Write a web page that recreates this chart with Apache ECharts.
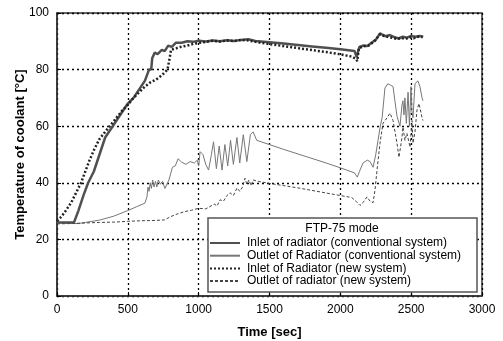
<!DOCTYPE html>
<html><head><meta charset="utf-8">
<script src="https://cdn.jsdelivr.net/npm/echarts@6/dist/echarts.min.js"></script>
<style>html,body{margin:0;padding:0;background:#fff}#c{width:503px;height:341px}</style>
</head><body><div id="c"></div>
<script>
const xTicks = [0, 500, 1000, 1500, 2000, 2500, 3000];
const yTicks = [0, 20, 40, 60, 80, 100];
const seriesNames = [
  'Inlet of radiator (conventional system)',
  'Outlet of Radiator (conventional system)',
  'Inlet of Radiator (new system)',
  'Outlet of radiator (new system)'
];
const inletConv = [[0,26],[60,26],[120,26],[150,30],[190,36],[220,40],[260,44],[300,50],[340,56],[380,59],[420,62],[460,65],[500,68],[540,70],[580,73],[620,76],[650,80],[665,80],[672,84],[690,86],[710,85.5],[740,87],[760,86.5],[785,88.5],[810,88],[840,89.5],[880,89.5],[920,90],[960,89.8],[1000,90.2],[1050,89.9],[1100,90.3],[1150,90],[1200,90.4],[1250,90.1],[1300,90.5],[1350,90.7],[1400,90.1],[1500,89.7],[1600,89.2],[1700,88.7],[1800,88.2],[1900,87.7],[2000,87.2],[2100,86.6],[2115,84.5],[2125,84.8],[2135,88],[2160,88.5],[2190,88.3],[2220,89.5],[2250,90.5],[2280,92.8],[2300,92.3],[2320,91.8],[2350,92.2],[2380,91.5],[2410,91],[2440,91.6],[2470,91.3],[2500,91.9],[2530,91.6],[2560,91.9],[2585,91.6]];
const outletConv = [[0,26],[50,25.8],[100,25.6],[150,25.6],[200,26],[300,26.8],[400,28.2],[500,30.2],[560,31.5],[620,32.8],[635,35],[642,38.5],[650,37],[658,40],[666,38],[675,41],[685,38.5],[695,40.5],[705,38.5],[715,41],[730,39.5],[745,40.5],[762,38],[790,41],[815,45.5],[835,46],[855,48.5],[880,47.3],[910,46.5],[940,47.5],[970,47],[990,48],[1000,46],[1010,51],[1030,50],[1050,46.5],[1070,44.5],[1090,50],[1105,54.5],[1125,45],[1145,53],[1165,44.5],[1185,53.5],[1205,46],[1225,55],[1245,46.5],[1270,56],[1290,47],[1315,57],[1340,47.5],[1365,57],[1384,58],[1410,55],[1500,53.5],[1600,51.8],[1700,50.2],[1800,48.6],[1900,47],[2000,45.3],[2100,43.5],[2120,42],[2135,44],[2160,47],[2190,48],[2210,47.5],[2231,45.5],[2250,50],[2266,55],[2282,60],[2295,63],[2315,73.5],[2335,75],[2355,74.5],[2372,74],[2385,69],[2400,63.5],[2421,60],[2435,67.5],[2442,69],[2449,64],[2456,70],[2466,61],[2478,72],[2488,60],[2499,74],[2506,65],[2513,63],[2527,75],[2548,76],[2562,74],[2577,70],[2583,69]];
const inletNew = [[0,26.5],[30,28],[60,30],[100,33],[130,36],[170,40],[200,44],[230,48],[260,51.5],[300,55.5],[340,58],[380,60.5],[420,63],[460,65.5],[500,67.5],[540,70],[580,72],[620,74],[660,75.5],[700,76.5],[740,78],[780,80],[795,84],[805,87],[840,87.5],[870,88],[920,88.5],[970,89.2],[1010,89.5],[1050,89.8],[1100,90.2],[1150,89.9],[1200,90.3],[1250,90.1],[1300,90.5],[1350,90.3],[1400,89.8],[1500,89],[1600,88.3],[1700,87.6],[1800,86.9],[1900,86.2],[2000,85.4],[2080,84.6],[2110,83.8],[2120,83],[2130,87.5],[2160,88.2],[2200,88.5],[2240,90],[2280,92.5],[2310,91.8],[2340,91.5],[2370,91.2],[2400,90.8],[2430,91.2],[2460,90.8],[2490,91.4],[2520,91.1],[2550,91.6],[2580,91.5]];
const outletNew = [[0,25.5],[100,25.6],[200,25.8],[300,26],[400,26.1],[500,26.4],[600,26.6],[700,26.7],[760,26.9],[800,28],[850,29],[900,29.8],[950,30.3],[1000,31],[1050,30.8],[1080,31.6],[1110,32.5],[1130,31.8],[1151,34],[1175,33.5],[1200,35.5],[1221,36.5],[1245,35.5],[1271,38.2],[1290,37],[1310,38.5],[1327,41.6],[1340,39.5],[1355,41],[1370,39],[1384,41],[1420,40.5],[1500,39.8],[1600,39],[1700,38.2],[1800,37.3],[1900,36.4],[2000,35.5],[2080,34.8],[2110,33.5],[2139,32],[2160,33],[2188,35],[2210,33.5],[2231,33],[2245,37.5],[2259,44.5],[2280,54],[2301,61],[2330,63],[2351,64.6],[2372,62],[2386,58],[2400,54],[2414,49],[2435,56],[2442,59.7],[2456,55],[2470,57.5],[2492,52.6],[2506,62],[2513,54],[2527,58],[2541,65.7],[2555,68],[2577,63],[2583,62]];

const FONT = 'Liberation Sans, Arial, sans-serif';
const chart = echarts.init(document.getElementById('c'), null, {renderer: 'canvas'});
const gridLine = {show: true, lineStyle: {color: '#000', width: 1.3, type: [2, 3]}};
chart.setOption({
  animation: false,
  backgroundColor: '#fff',
  grid: {left: 57, top: 13, right: 21, bottom: 45, show: true, borderColor: '#333', borderWidth: 1.5, backgroundColor: 'transparent', outerBoundsMode: 'none', containLabel: false},
  xAxis: {
    type: 'value', min: xTicks[0], max: xTicks[xTicks.length - 1], interval: 500,
    name: 'Time [sec]', nameLocation: 'middle', nameGap: 30, nameMoveOverlap: false,
    nameTextStyle: {fontFamily: FONT, fontSize: 13, fontWeight: 'bold', color: '#000'},
    axisLine: {show: true, lineStyle: {color: '#333', width: 1.5}},
    axisTick: {show: true, inside: true, length: 4, lineStyle: {color: '#000'}},
    axisLabel: {fontFamily: FONT, fontSize: 12, color: '#000', margin: 8, formatter: v => String(v)},
    splitLine: gridLine
  },
  yAxis: {
    type: 'value', min: yTicks[0], max: yTicks[yTicks.length - 1], interval: 20,
    name: 'Temperature of coolant [°C]', nameLocation: 'middle', nameGap: 30, nameMoveOverlap: false,
    nameTextStyle: {fontFamily: FONT, fontSize: 13, fontWeight: 'bold', color: '#000'},
    axisLine: {show: true, lineStyle: {color: '#333', width: 1.5}},
    axisTick: {show: true, inside: true, length: 4, lineStyle: {color: '#000'}},
    axisLabel: {fontFamily: FONT, fontSize: 12, color: '#000', margin: 8, formatter: v => String(v)},
    splitLine: gridLine
  },
  graphic: [
    {type: 'rect', z: 50, shape: {x: 208, y: 218, width: 269, height: 74}, style: {fill: '#fff', stroke: '#555', lineWidth: 1.5}},
    {type: 'text', z: 51, x: 342, y: 229, style: {text: 'FTP-75 mode', fontFamily: FONT, fontSize: 12, fill: '#000', align: 'center', verticalAlign: 'middle'}}
  ],
  legend: {
    z: 60, orient: 'vertical', left: 209, top: 237, itemWidth: 30, itemHeight: 8, itemGap: 0.7,
    padding: 0, selectedMode: false,
    itemStyle: {opacity: 0},
    textStyle: {fontFamily: FONT, fontSize: 12, color: '#000', lineHeight: 12, padding: [0, 0, 0, 2]},
    data: seriesNames
  },
  series: [
    {name: seriesNames[0], type: 'line', symbol: 'none', data: inletConv, z: 3, lineStyle: {color: '#505050', width: 2.5}, itemStyle: {color: '#505050'}},
    {name: seriesNames[1], type: 'line', symbol: 'none', data: outletConv, z: 2, lineStyle: {color: '#777', width: 1}, itemStyle: {color: '#777'}},
    {name: seriesNames[2], type: 'line', symbol: 'none', data: inletNew, z: 4, lineStyle: {color: '#222', width: 2.5, type: [2, 2]}, itemStyle: {color: '#222'}},
    {name: seriesNames[3], type: 'line', symbol: 'none', data: outletNew, z: 2, lineStyle: {color: '#444', width: 1, type: [3, 2]}, itemStyle: {color: '#444'}}
  ]
});
</script>
</body></html>
